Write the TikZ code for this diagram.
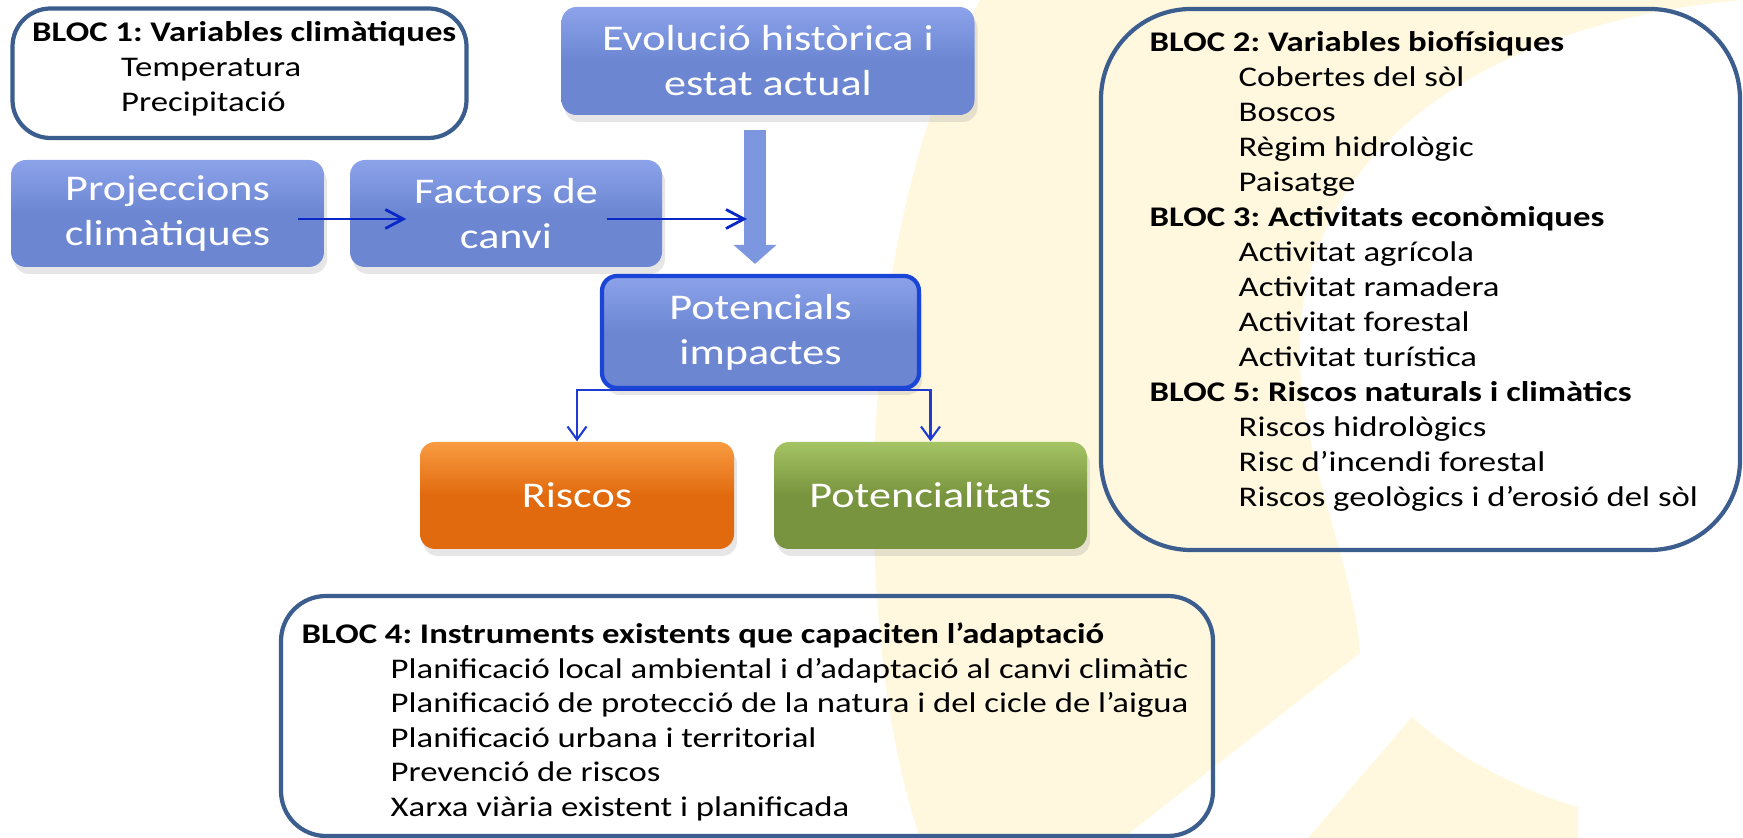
\documentclass[tikz,border=0pt]{standalone}
\usepackage{fontspec}
\setmainfont{Carlito}[FakeStretch=1.22]
\usepackage{tikz}
\usetikzlibrary{arrows.meta}
\usetikzlibrary{shadows}
\frenchspacing
\definecolor{blocline}{RGB}{60,94,142}
\definecolor{boxtop}{RGB}{140,163,234}
\definecolor{boxblue}{RGB}{108,134,210}
\definecolor{potline}{RGB}{25,70,215}
\definecolor{fatblue}{RGB}{124,151,224}
\definecolor{arrowblue}{RGB}{10,40,200}
\definecolor{linkblue}{RGB}{30,60,210}
\definecolor{orangetop}{RGB}{248,155,65}
\definecolor{orangebox}{RGB}{226,106,14}
\definecolor{greentop}{RGB}{165,196,100}
\definecolor{greenbox}{RGB}{120,148,62}
\definecolor{watermark}{RGB}{255,248,223}
\tikzstyle{bloc}=[draw=blocline, line width=1.2pt]
\tikzstyle{blocitem}=[anchor=base west, inner sep=0pt, font=\fontsize{8.1}{9.7}\selectfont]
\tikzstyle{bloctitle}=[blocitem, font=\fontsize{8.1}{9.7}\selectfont\bfseries]
\tikzstyle{boite}=[rounded corners=0.15cm, text=white, align=center, minimum height=1.07cm, top color=boxtop, bottom color=boxblue, middle color=boxblue, drop shadow={opacity=0.2, shadow xshift=0.03cm, shadow yshift=-0.07cm}, font=\fontsize{10.3}{12.8}\selectfont]
\tikzset{>={Straight Barb[length=1.8mm,width=1.9mm]}}

\begin{document}
\begin{tikzpicture}
        \tikzstyle{fatarrow}=[draw=fatblue, line width=0.22cm, -{Triangle[length=0.19cm,width=0.43cm,line width=0pt]}]
        \tikzstyle{thinarrow}=[draw=arrowblue, line width=0.8pt, ->]
        \tikzstyle{linkarrow}=[draw=linkblue, line width=0.6pt, -{Straight Barb[length=1.3mm,width=1.9mm]}]
        \useasboundingbox (0,0) rectangle (17.43,-8.38);

        % Watermark
        \fill[watermark] (9.80,0) -- (17.43,0)
          .. controls (14.6,-0.25) and (12.95,-1.7) .. (13.00,-3.57)
          .. controls (13.02,-4.6) and (13.55,-5.7) .. (13.60,-6.53)
          -- (11.23,-8.38) -- (9.20,-8.38)
          .. controls (8.55,-6.5) and (8.45,-2.5) .. (9.80,0) -- cycle;
        \fill[watermark] (14.12,-7.17) -- (13.08,-8.38) -- (15.78,-8.38) -- (15.78,-8.07)
          .. controls (15.2,-7.9) and (14.6,-7.6) .. (14.12,-7.17) -- cycle;

        % Blocs
        \node at (2.395,-0.7325) [bloc, rounded corners=0.38cm, minimum width=4.54cm, minimum height=1.295cm] (bloc1) {};
        \node at (14.205,-2.795) [bloc, rounded corners=0.9cm, minimum width=6.39cm, minimum height=5.41cm] (bloc2) {};
        \node at (7.47,-7.16) [bloc, rounded corners=0.45cm, minimum width=9.32cm, minimum height=2.40cm] (bloc4) {};

        % Bloc 1
        \node at (0.315,-0.42) [bloctitle] (titol1) {BLOC 1: Variables climàtiques};
        \foreach \t [count=\i] in {Temperatura, Precipitació}
          \node at (1.205, -0.42-\i*0.35) [blocitem] (clim_\i) {\t};

        % Bloc 2, 3 i 5
        \node at (11.49,-0.52) [bloctitle] (titol2) {BLOC 2: Variables biofísiques};
        \foreach \t [count=\i] in {Cobertes del sòl, Boscos, Règim hidrològic, Paisatge}
          \node at (12.38, -0.52-\i*0.35) [blocitem] (biof_\i) {\t};
        \node at (11.49,-2.27) [bloctitle] (titol3) {BLOC 3: Activitats econòmiques};
        \foreach \t [count=\i] in {Activitat agrícola, Activitat ramadera, Activitat forestal, Activitat turística}
          \node at (12.38, -2.27-\i*0.35) [blocitem] (econ_\i) {\t};
        \node at (11.49,-4.02) [bloctitle] (titol5) {BLOC 5: Riscos naturals i climàtics};
        \foreach \t [count=\i] in {Riscos hidrològics, Risc d’incendi forestal, Riscos geològics i d’erosió del sòl}
          \node at (12.38, -4.02-\i*0.35) [blocitem] (risc_\i) {\t};

        % Bloc 4
        \node at (3.01,-6.44) [bloctitle] (titol4) {BLOC 4: Instruments existents que capaciten l’adaptació};
        \foreach \t [count=\i] in {Planificació local ambiental i d’adaptació al canvi climàtic, Planificació de protecció de la natura i del cicle de l’aigua, Planificació urbana i territorial, Prevenció de riscos, Xarxa viària existent i planificada}
          \node at (3.90, -6.44-\i*0.345) [blocitem] (instr_\i) {\t};

        % Caixes
        \node at (7.68,-0.61) [boite, minimum width=4.13cm, minimum height=1.08cm] (evol) {Evolució històrica i\\estat actual};
        \node at (1.675,-2.135) [boite, minimum width=3.13cm] (proj) {Projeccions\\climàtiques};
        \node at (5.06,-2.135) [boite, minimum width=3.12cm] (fact) {Factors de\\canvi};
        \node at (7.605,-3.32) [boite, draw=potline, line width=1.2pt, minimum width=3.17cm, minimum height=1.12cm] (pot) {Potencials\\impactes};
        \node at (5.77,-4.955) [boite, top color=orangetop, bottom color=orangebox, middle color=orangebox, minimum width=3.14cm] (risc) {Riscos};
        \node at (9.305,-4.955) [boite, top color=greentop, bottom color=greenbox, middle color=greenbox, minimum width=3.13cm] (potl) {Potencialitats};

        % Fletxes
        \draw [fatarrow] ([xshift=-1.3mm,yshift=-1.4mm]evol.south) -- ([xshift=-1.3mm,yshift=1.0mm]evol.south |- pot.north);
        \draw [thinarrow] ([xshift=-2.7mm,yshift=-0.55mm]proj.east) -- ([xshift=5.7mm,yshift=-0.55mm]fact.west);
        \draw [thinarrow] ([xshift=-5.6mm,yshift=-0.55mm]fact.east) -- ([xshift=-2.1mm,yshift=-0.55mm]fact.east -| evol.south);
        \draw [linkarrow] (pot.south) -| (risc.north);
        \draw [linkarrow] (pot.south) -| (potl.north);
\end{tikzpicture}
\end{document}
